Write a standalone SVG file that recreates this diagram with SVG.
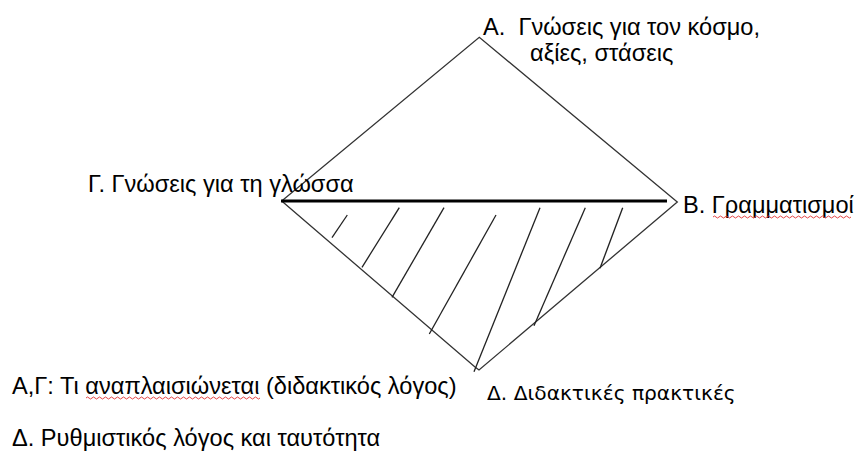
<svg xmlns="http://www.w3.org/2000/svg" width="854" height="454" viewBox="0 0 854 454">
<defs>
<style>
.t{font-family:"Liberation Sans",Arial,sans-serif;font-size:23.6px;fill:#000;white-space:pre}
.t2{font-family:"DejaVu Sans",Verdana,sans-serif;font-size:20.2px;fill:#000}
.e{stroke:#333;stroke-width:1.3;fill:none}
.h{stroke:#222;stroke-width:1.3;fill:none}
.sq{stroke:#e03030;stroke-width:0.9;fill:none}
</style>
</defs>
<rect width="854" height="454" fill="#fff"/>
<g id="connectors">
<polyline class="e" points="281.7,201 479.3,37.3 677.3,202 479,370 475,367 281.7,201"/>
<line x1="281" y1="201" x2="667" y2="201" stroke="#000" stroke-width="3"/>
<g id="hatch">
<line class="h" x1="347.3" y1="215" x2="332" y2="237.7"/>
<line class="h" x1="399.3" y1="207.7" x2="362" y2="267.3"/>
<line class="h" x1="444" y1="207.7" x2="392" y2="297.3"/>
<line class="h" x1="496" y1="215" x2="429.3" y2="334"/>
<line class="h" x1="540" y1="207.7" x2="474" y2="371.7"/>
<line class="h" x1="585.3" y1="207.7" x2="534" y2="325.7"/>
<line class="h" x1="622.7" y1="207.7" x2="600" y2="268.3"/>
</g>
</g>
<g id="nodeA">
<text class="t" x="483" y="35" xml:space="preserve">A.  Γνώσεις για τον κόσμο,</text>
<text class="t" x="530" y="61">αξίες, στάσεις</text>
</g>
<g id="nodeG">
<text class="t" x="88" y="192">Γ. Γνώσεις για τη γλώσσα</text>
</g>
<g id="nodeB">
<text class="t" x="683" y="213">B. Γραμματισμοί</text>
<path class="sq" d="M713,217 q1.5,-2 3,0 t3,0 t3,0 t3,0 t3,0 t3,0 t3,0 t3,0 t3,0 t3,0 t3,0 t3,0 t3,0 t3,0 t3,0 t3,0 t3,0 t3,0 t3,0 t3,0 t3,0 t3,0 t3,0 t3,0 t3,0 t3,0 t3,0 t3,0 t3,0 t3,0 t3,0 t3,0 t3,0 t3,0 t3,0 t3,0 t3,0 t3,0 t3,0 t3,0 t3,0 t3,0 t3,0 t3,0 t3,0 t3,0"/>
</g>
<g id="nodeD">
<text class="t2" x="487" y="400">Δ. Διδακτικές πρακτικές</text>
</g>
<g id="legend">
<text class="t" x="12" y="394">A,Γ: Τι αναπλαισιώνεται (διδακτικός λόγος)</text>
<path class="sq" d="M86,398 q1.5,-2 3,0 t3,0 t3,0 t3,0 t3,0 t3,0 t3,0 t3,0 t3,0 t3,0 t3,0 t3,0 t3,0 t3,0 t3,0 t3,0 t3,0 t3,0 t3,0 t3,0 t3,0 t3,0 t3,0 t3,0 t3,0 t3,0 t3,0 t3,0 t3,0 t3,0 t3,0 t3,0 t3,0 t3,0 t3,0 t3,0 t3,0 t3,0 t3,0 t3,0 t3,0 t3,0 t3,0 t3,0 t3,0 t3,0 t3,0 t3,0 t3,0 t3,0 t3,0 t3,0 t3,0 t3,0 t3,0 t3,0 t3,0 t3,0"/>
<text class="t" x="12" y="446">Δ. Ρυθμιστικός λόγος και ταυτότητα</text>
</g>
</svg>
